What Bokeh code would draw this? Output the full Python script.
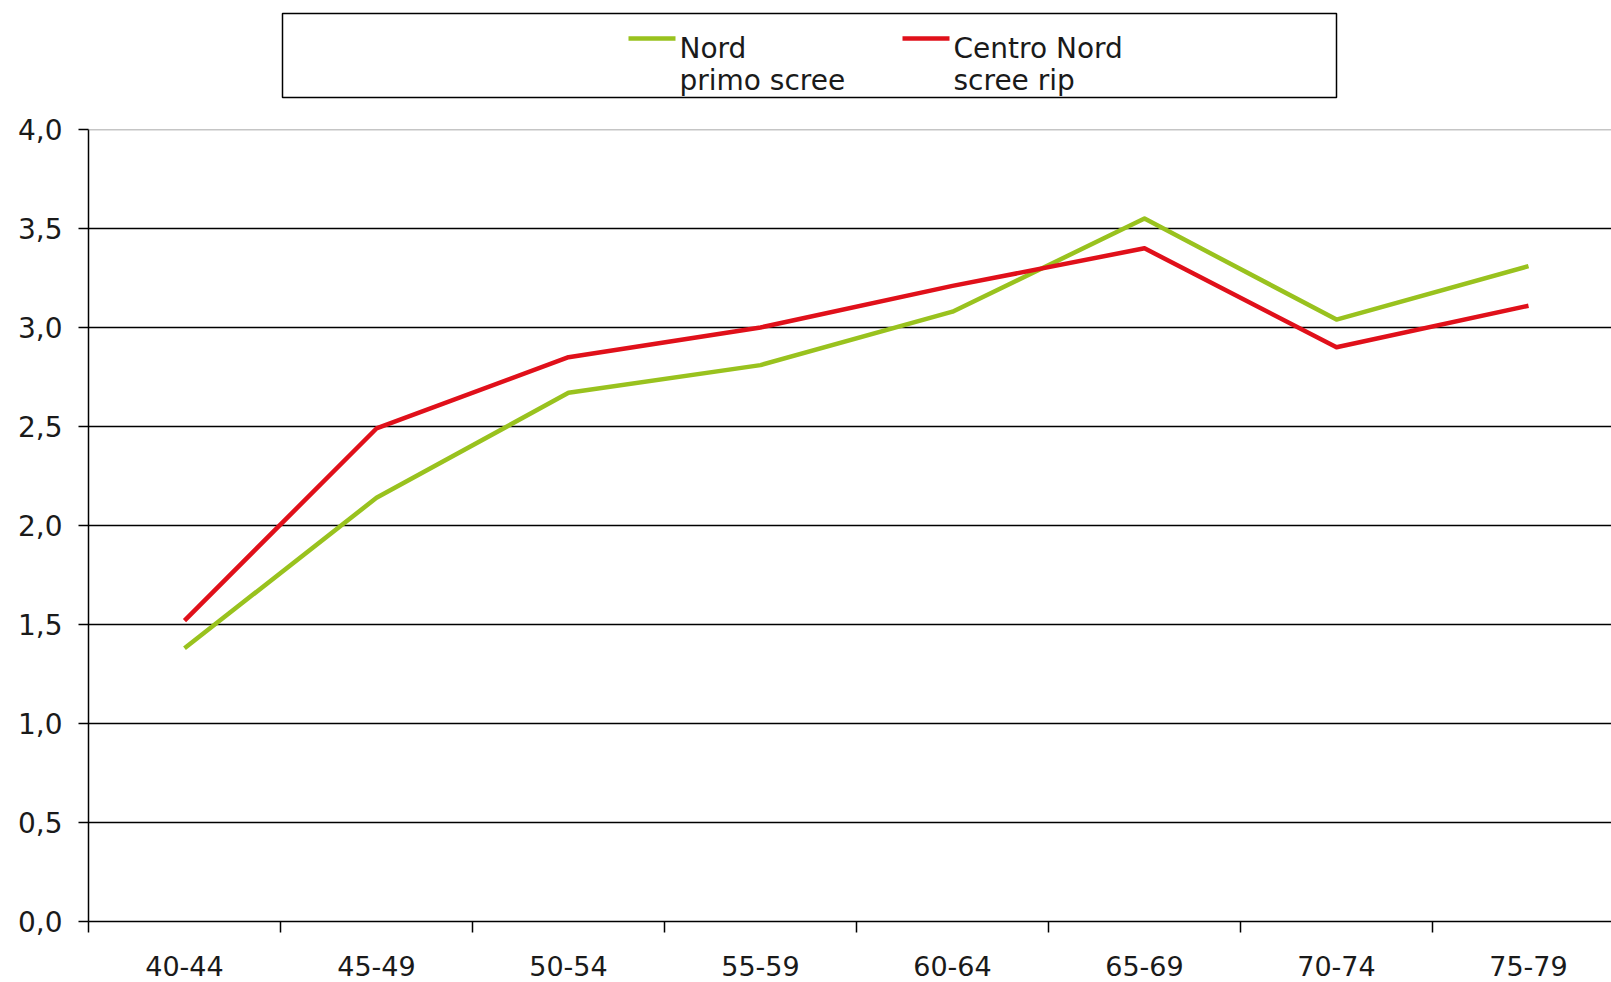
from bokeh.plotting import figure
from bokeh.layouts import column
from bokeh.models import Range1d, FixedTicker, CustomJSTickFormatter, Span, ColumnDataSource
from bokeh.core.properties import value
from bokeh.embed import file_html
from bokeh.resources import INLINE

# Age classes (x axis) and the two series
age_classes = ["40-44", "45-49", "50-54", "55-59", "60-64", "65-69", "70-74", "75-79"]
nord = [1.38, 2.14, 2.67, 2.81, 3.08, 3.55, 3.04, 3.31]
centro_nord = [1.52, 2.49, 2.85, 3.00, 3.21, 3.40, 2.90, 3.11]

series_names = [["Nord", "primo scree"], ["Centro Nord", "scree rip"]]
series_colors = ["#99C21E", "#E0101A"]

y_ticks = [0.0, 0.5, 1.0, 1.5, 2.0, 2.5, 3.0, 3.5, 4.0]

FONT = "DejaVu Sans"
FONT_SIZE = "28px"
X_FONT_SIZE = "27px"
TEXT_COLOR = "#1a1a1a"

W = 1611
LEG_H = 110
MAIN_H = 982 - LEG_H
LEFT = 88  # shared left border of both stacked figures

# ---------------- legend strip ----------------
# x range chosen so that x values equal page pixels inside the frame
leg = figure(width=W, height=LEG_H, output_backend="svg", toolbar_location=None,
             x_range=Range1d(LEFT, W), y_range=Range1d(LEG_H, 0),
             x_axis_location=None, y_axis_location=None,
             min_border=0, min_border_left=LEFT, outline_line_color=None)
leg.grid.visible = False
leg.quad(left=[282], right=[1336], top=[13], bottom=[97],
         fill_color="white", line_color="black", line_width=1.5)

entry_x = [628, 902]
for i, (names, color) in enumerate(zip(series_names, series_colors)):
    x0 = entry_x[i]
    leg.line([x0, x0 + 47], [38, 38], line_color=color, line_width=4.5)
    src = ColumnDataSource(dict(x=[x0 + 51, x0 + 51], y=[48, 80], t=names))
    leg.text(x="x", y="y", text="t", source=src, text_font=value(FONT),
             text_font_size=FONT_SIZE, text_color=TEXT_COLOR,
             text_baseline="alphabetic", text_align="left")

# ---------------- main chart ----------------
n = len(age_classes)
xs = list(range(n))
cat_w = 192.0
x_end = -0.5 + (W - LEFT) / cat_w

p = figure(width=W, height=MAIN_H, output_backend="svg", toolbar_location=None,
           x_range=Range1d(-0.5, x_end), y_range=Range1d(0, 4),
           min_border_top=19, min_border_bottom=61, min_border_left=LEFT,
           min_border_right=0, outline_line_color=None)

# x axis: labels centred on classes, tick marks on class boundaries
p.xaxis.ticker = FixedTicker(ticks=xs, minor_ticks=[i - 0.5 for i in range(n + 1)])
p.xaxis.major_label_overrides = {i: lab for i, lab in enumerate(age_classes)}
p.xaxis.major_tick_out = 0
p.xaxis.major_tick_in = 0
p.xaxis.minor_tick_out = 11
p.xaxis.minor_tick_in = 0
p.xaxis.minor_tick_line_color = "black"
p.xaxis.minor_tick_line_width = 1.5
p.xaxis.major_label_standoff = 23

p.yaxis.ticker = FixedTicker(ticks=y_ticks)
p.yaxis.formatter = CustomJSTickFormatter(code="return tick.toFixed(1).replace('.', ',');")
p.yaxis.major_tick_out = 10
p.yaxis.major_tick_in = 0
p.yaxis.minor_tick_out = 0
p.yaxis.minor_tick_in = 0
p.yaxis.major_tick_line_color = "black"
p.yaxis.major_tick_line_width = 1.5
p.yaxis.major_label_standoff = 16

for ax in (p.xaxis, p.yaxis):
    ax.axis_line_color = "black"
    ax.axis_line_width = 1.5
    ax.major_label_text_font = FONT
    ax.major_label_text_font_size = FONT_SIZE
    ax.major_label_text_color = TEXT_COLOR
p.xaxis.major_label_text_font_size = X_FONT_SIZE

p.xgrid.visible = False
p.ygrid.ticker = FixedTicker(ticks=y_ticks[1:-1])
p.ygrid.grid_line_color = "black"
p.ygrid.grid_line_width = 1.5
p.add_layout(Span(location=4.0, dimension="width", line_color="#8c8c8c", line_width=1.5))

p.line(xs, nord, line_color=series_colors[0], line_width=4.5, line_join="round")
p.line(xs, centro_nord, line_color=series_colors[1], line_width=4.5, line_join="round")

layout = column(leg, p, spacing=0)
open("out.html", "w").write(file_html(layout, INLINE))
